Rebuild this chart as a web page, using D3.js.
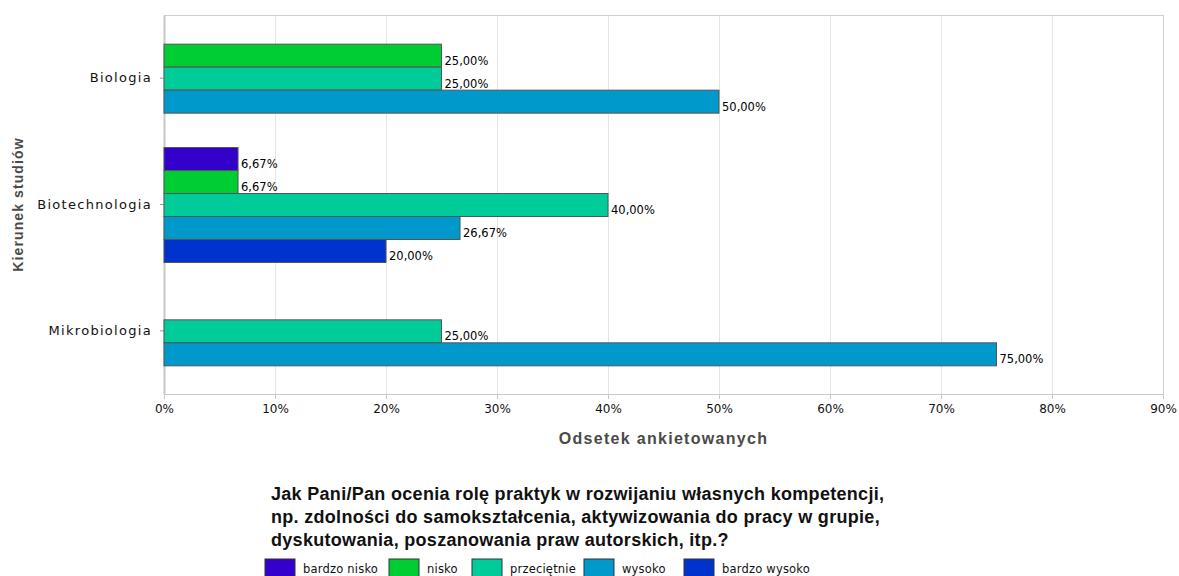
<!DOCTYPE html>
<html>
<head>
<meta charset="utf-8">
<script src="https://cdn.jsdelivr.net/npm/d3@7"></script>
<style>
  body { margin: 0; background: #fff; }
  svg { display: block; }
</style>
</head>
<body>
<div id="chart"></div>
<script>
// chart data
var categories = ["Biologia", "Biotechnologia", "Mikrobiologia"]
var seriesNames = ["bardzo nisko", "nisko", "przeciętnie", "wysoko", "bardzo wysoko"]
var seriesColors = ["#3300cc", "#00cc33", "#00cc99", "#0099cc", "#0033cc"]
var biologia = [null, 25, 25, 50, null]
var biotechnologia = [6.67, 6.67, 40, 26.67, 20]
var mikrobiologia = [null, null, 25, 75, null]
var xTicks = [0, 10, 20, 30, 40, 50, 60, 70, 80, 90]
var legendTitle = [
  "Jak Pani/Pan ocenia rolę praktyk w rozwijaniu własnych kompetencji,",
  "np. zdolności do samokształcenia, aktywizowania do pracy w grupie,",
  "dyskutowania, poszanowania praw autorskich, itp.?"
]

var values = [biologia, biotechnologia, mikrobiologia]

var width = 1179,
    height = 576
var plot = {left: 164, right: 1163, top: 15, bottom: 394}

var svg = d3.select("#chart")
  .append("svg")
    .attr("width", width)
    .attr("height", height)

var x = d3.scaleLinear()
  .domain([0, 90])
  .range([plot.left, plot.right])

var y = d3.scaleBand()
  .domain(categories)
  .range([plot.top, plot.bottom])
  .paddingInner(0.09)
  .paddingOuter(0.045)

var ySub = d3.scaleBand()
  .domain(seriesNames)
  .range([0, y.bandwidth()])

// grid lines
svg.append("g")
  .selectAll("line")
  .data(xTicks.slice(1))
  .enter()
  .append("line")
    .attr("x1", d => x(d) + 0.5)
    .attr("x2", d => x(d) + 0.5)
    .attr("y1", plot.top)
    .attr("y2", plot.bottom)
    .attr("stroke", "#e6e6e6")

// plot frame (top + right)
svg.append("path")
  .attr("d", "M" + plot.left + "," + (plot.top + 0.5) + "H" + (plot.right + 0.5) + "V" + plot.bottom)
  .attr("fill", "none")
  .attr("stroke", "#d0d0d0")

// x axis
var xAxis = svg.append("g")
  .attr("transform", "translate(0," + plot.bottom + ")")
  .call(d3.axisBottom(x).tickValues(xTicks).tickFormat(d => d + "%").tickSizeOuter(0).tickSize(5))
xAxis.select(".domain").attr("stroke", "#c8c8c8")
xAxis.selectAll(".tick line").attr("stroke", "#c8c8c8")
xAxis.selectAll("text")
  .attr("fill", "#111")
  .attr("dy", "0.95em")
  .style("font-family", "DejaVu Sans")
  .style("font-size", "12px")

// y axis
var yAxis = svg.append("g")
  .attr("transform", "translate(" + plot.left + ",0)")
  .call(d3.axisLeft(y).tickSize(4).tickSizeOuter(0).tickPadding(8))
yAxis.select(".domain").attr("stroke", "#c8c8c8").attr("stroke-width", 2)
yAxis.selectAll(".tick line").attr("stroke", "#999")
yAxis.selectAll("text")
  .attr("fill", "#111")
  .style("font-family", "DejaVu Sans")
  .style("font-size", "13px")
  .style("letter-spacing", "1.3px")

// bars
var groups = svg.append("g")
  .selectAll("g")
  .data(categories)
  .enter()
  .append("g")
    .attr("transform", d => "translate(0," + y(d) + ")")

var cells = groups.selectAll(".bar")
  .data((c, i) => seriesNames.map((s, j) => ({series: s, idx: j, value: values[i][j]})).filter(d => d.value != null))
  .enter()

cells.append("rect")
  .attr("class", "bar")
  .attr("x", x(0))
  .attr("y", d => ySub(d.series) + 0.5)
  .attr("width", d => x(d.value) - x(0))
  .attr("height", ySub.bandwidth())
  .attr("fill", d => seriesColors[d.idx])
  .attr("stroke", "#555")
  .attr("stroke-width", 1)

cells.append("text")
  .attr("x", d => x(d.value) + 3)
  .attr("y", d => ySub(d.series) + ySub.bandwidth() - 2)
  .text(d => d3.format(".2f")(d.value).replace(".", ",") + "%")
  .style("font-family", "DejaVu Sans")
  .style("font-size", "11.5px")
  .attr("fill", "#000")

// axis titles
svg.append("text")
  .attr("x", (plot.left + plot.right) / 2)
  .attr("y", 444)
  .attr("text-anchor", "middle")
  .text("Odsetek ankietowanych")
  .style("font-family", "Liberation Sans")
  .style("font-weight", "bold")
  .style("font-size", "16px")
  .style("letter-spacing", "1.3px")
  .attr("fill", "#4a4a4a")

svg.append("text")
  .attr("transform", "translate(23," + ((plot.top + plot.bottom) / 2) + ") rotate(-90)")
  .attr("text-anchor", "middle")
  .text("Kierunek studiów")
  .style("font-family", "Liberation Sans")
  .style("font-weight", "bold")
  .style("font-size", "14px")
  .style("letter-spacing", "1.1px")
  .attr("fill", "#4a4a4a")

// legend title
svg.append("text")
  .attr("x", 271)
  .attr("y", 500)
  .style("font-family", "Liberation Sans")
  .style("font-weight", "bold")
  .style("font-size", "18px")
  .style("letter-spacing", "0.3px")
  .attr("fill", "#111")
  .selectAll("tspan")
  .data(legendTitle)
  .enter()
  .append("tspan")
    .attr("x", 271)
    .attr("dy", (d, i) => i === 0 ? 0 : 23)
    .text(d => d)

// legend items
var legendX = [265, 389, 472, 584, 684]
var legend = svg.append("g")
  .selectAll("g")
  .data(seriesNames)
  .enter()
  .append("g")
    .attr("transform", (d, i) => "translate(" + legendX[i] + ",559)")

legend.append("rect")
  .attr("width", 30)
  .attr("height", 18)
  .attr("fill", (d, i) => seriesColors[i])
  .attr("stroke", "#333")

legend.append("text")
  .attr("x", 38)
  .attr("y", 13.5)
  .text(d => d)
  .style("font-family", "DejaVu Sans")
  .style("font-size", "11.5px")
  .style("letter-spacing", "0.2px")
  .attr("fill", "#111")
</script>
</body>
</html>
